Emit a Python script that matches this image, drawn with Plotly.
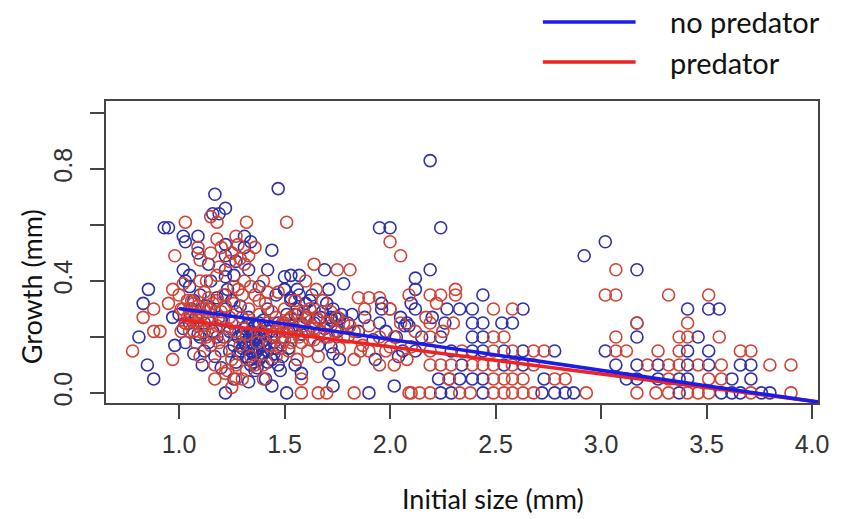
import plotly.graph_objects as go

# ---------------- data ----------------
# no predator (blue) points
nopred_x = [
    # right half, row by row
    2.24, 2.29, 2.44, 2.72, 2.78, 2.83, 2.87, 3.37, 3.57, 3.62, 3.66, 3.76, 3.80,
    2.23, 2.28, 2.33, 2.39, 2.44, 2.73, 3.12, 3.17, 3.27, 3.37, 3.41, 3.62, 3.71,
    2.34, 2.54, 2.63, 3.07, 3.17, 3.27, 3.41, 3.51, 3.66, 3.71,
    2.12, 2.29, 2.39, 2.44, 2.54, 2.63, 2.78, 3.02, 3.41, 3.51,
    2.24, 2.39, 2.44, 3.17, 3.46,
    2.08, 2.26, 2.39, 2.44, 2.53, 2.58, 3.17,
    2.12, 2.27, 2.33, 2.39, 2.63, 3.41, 3.51, 3.56,
    2.44,
    2.12, 2.19, 3.17, 2.92, 3.02, 2.24, 2.19, 2.12,
    2.02, 2.04, 2.09, 2.10, 2.05, 2.07,
    # left half, outer points
    0.81, 0.85, 0.88, 0.83, 0.855, 0.97, 0.98, 0.93, 0.95, 1.02, 1.03, 1.02, 1.05,
    1.09, 1.09, 1.17, 1.16, 1.19, 1.22, 1.31, 1.34, 1.31, 1.22, 1.22, 1.22, 1.22,
    1.42, 1.44, 1.47, 1.50, 1.53, 1.57, 1.69, 1.78, 1.71, 1.96, 1.96, 1.95, 2.00,
    1.95, 1.88, 1.72, 1.74, 1.76, 1.72, 1.73, 1.76, 1.93, 1.71, 1.73, 1.90, 1.51,
    1.44, 1.41, 1.22, 1.58,
    1.27, 1.33, 1.14, 1.38,
    1.50, 1.53, 1.56, 1.60, 1.63,
    # left half, dense cluster
    1.00, 1.02, 1.03, 1.05, 1.06, 1.07, 1.08, 1.09, 1.10, 1.11, 1.12, 1.13, 1.14,
    1.15, 1.16, 1.17, 1.18, 1.19, 1.20, 1.21, 1.22, 1.23, 1.24, 1.25, 1.26, 1.27,
    1.28, 1.29, 1.30, 1.31, 1.32, 1.33, 1.33, 1.34, 1.34, 1.35, 1.35, 1.36, 1.36,
    1.37, 1.37, 1.38, 1.38, 1.39, 1.39, 1.40, 1.40, 1.41, 1.42, 1.42, 1.43, 1.44,
    1.45, 1.46, 1.47, 1.48, 1.49, 1.50, 1.51, 1.52, 1.53, 1.54, 1.55, 1.56, 1.57,
    1.58, 1.60, 1.62, 1.64, 1.66, 1.68, 1.70, 1.72, 1.73, 1.75, 1.77, 1.80,
    1.30, 1.32, 1.35, 1.37, 1.39, 1.41, 1.36, 1.33, 1.29, 1.43, 1.45, 1.38,
    1.31, 1.33, 1.35, 1.36, 1.37, 1.38, 1.39, 1.40, 1.41, 1.42, 1.34, 1.36, 1.38,
    1.32, 1.30, 1.28, 1.26, 1.24, 1.44, 1.46, 1.47, 1.49, 1.52, 1.55, 1.58, 1.61,
    1.64, 1.67, 1.69, 1.10, 1.12, 1.05, 1.07, 1.03, 1.15, 1.18, 1.20, 1.22, 1.25,
    1.27, 2.15, 2.20, 2.03, 2.06, 1.98, 1.92, 1.85, 1.82, 1.26, 1.33,
]
nopred_y = [
    0.0, 0.0, 0.0, 0.0, 0.0, 0.0, 0.0, 0.0, 0.0, 0.0, 0.0, 0.0, 0.0,
    0.05, 0.05, 0.05, 0.05, 0.05, 0.05, 0.05, 0.05, 0.05, 0.05, 0.05, 0.05, 0.05,
    0.10, 0.10, 0.10, 0.10, 0.10, 0.10, 0.10, 0.10, 0.10, 0.10,
    0.15, 0.15, 0.15, 0.15, 0.15, 0.15, 0.15, 0.15, 0.15, 0.15,
    0.20, 0.20, 0.20, 0.20, 0.20,
    0.25, 0.25, 0.25, 0.25, 0.25, 0.25, 0.25,
    0.30, 0.30, 0.30, 0.30, 0.30, 0.30, 0.30, 0.30,
    0.35,
    0.37, 0.44, 0.44, 0.49, 0.54, 0.59, 0.83, 0.41,
    0.025, 0.13, 0.24, 0.32, 0.27, 0.24,
    0.20, 0.10, 0.05, 0.32, 0.37, 0.27, 0.17, 0.59, 0.59, 0.56, 0.54, 0.44, 0.42,
    0.56, 0.50, 0.71, 0.64, 0.64, 0.66, 0.56, 0.54, 0.52, 0.53, 0.49, 0.44, 0.415,
    0.44, 0.51, 0.73, 0.415, 0.42, 0.42, 0.44, 0.39, 0.37, 0.32, 0.30, 0.59, 0.59,
    0.25, 0.27, 0.27, 0.27, 0.265, 0.165, 0.14, 0.12, 0.12, 0.07, 0.025, 0.0, 0.0,
    0.025, 0.05, 0.0, 0.07,
    0.47, 0.44, 0.46, 0.38,
    0.37, 0.34, 0.37, 0.32, 0.35,
    0.28, 0.23, 0.18, 0.38, 0.30, 0.14, 0.27, 0.21, 0.35, 0.10, 0.25, 0.31, 0.18,
    0.40, 0.22, 0.13, 0.34, 0.27, 0.09, 0.20, 0.30, 0.37, 0.15, 0.25, 0.42, 0.11,
    0.20, 0.31, 0.16, 0.23, 0.13, 0.19, 0.27, 0.15, 0.22, 0.11, 0.18, 0.14, 0.24,
    0.20, 0.09, 0.16, 0.12, 0.22, 0.18, 0.14, 0.26, 0.19, 0.15, 0.30, 0.22, 0.12,
    0.18, 0.35, 0.25, 0.08, 0.20, 0.37, 0.28, 0.16, 0.33, 0.24, 0.10, 0.30, 0.35,
    0.21, 0.27, 0.33, 0.25, 0.17, 0.29, 0.32, 0.26, 0.30, 0.22, 0.28, 0.25,
    0.20, 0.17, 0.21, 0.16, 0.13, 0.21, 0.19, 0.12, 0.15, 0.17, 0.14, 0.24,
    0.18, 0.16, 0.14, 0.20, 0.15, 0.21, 0.13, 0.17, 0.23, 0.11, 0.10, 0.08, 0.25,
    0.24, 0.21, 0.14, 0.17, 0.22, 0.20, 0.16, 0.10, 0.13, 0.22, 0.28, 0.25, 0.22,
    0.30, 0.27, 0.23, 0.20, 0.15, 0.25, 0.33, 0.40, 0.30, 0.20, 0.26, 0.35, 0.33,
    0.29, 0.20, 0.27, 0.20, 0.15, 0.22, 0.19, 0.22, 0.28, 0.05, 0.04,
]

# predator (red) points
pred_x = [
    2.09, 2.14, 2.19, 2.33, 2.38, 2.49, 2.54, 2.58, 2.63, 2.68, 2.93, 3.17, 3.26,
    3.32, 3.41, 3.46, 3.51, 3.71, 3.90,
    2.28, 2.49, 2.54, 2.58, 2.63, 2.78, 2.83, 3.32, 3.51, 3.57,
    2.19, 2.24, 2.29, 2.39, 2.44, 2.49, 2.58, 2.68, 3.22, 3.32, 3.37, 3.46, 3.57,
    3.80, 3.90,
    2.19, 2.34, 2.49, 2.58, 2.68, 2.73, 3.07, 3.12, 3.27, 3.37, 3.66, 3.71,
    2.19, 2.49, 2.54, 3.07, 3.37, 3.41, 3.56,
    2.05, 2.19, 2.30, 3.17, 3.41,
    2.49, 2.58,
    2.09, 2.19, 2.24, 2.31, 3.02, 3.07, 3.32, 3.51,
    2.22, 2.31, 3.07, 2.05, 2.10, 2.10, 2.00, 2.00, 2.00,
    # left half, outer points
    0.78, 0.83, 0.88, 0.88, 0.91, 0.95, 0.97, 0.98, 0.97, 1.03, 1.02, 1.09, 1.10,
    1.15, 1.18, 1.32, 1.27, 1.31, 1.51, 1.64, 1.75, 1.81, 1.65, 1.85, 1.90, 1.95,
    2.00, 1.81, 1.78, 1.83, 1.86, 1.83, 1.66, 1.70, 1.58, 1.17, 1.27, 1.58, 1.22,
    1.25, 1.29, 1.36, 1.18, 1.40,
    1.55, 1.62, 1.68, 1.60,
    # left half, dense cluster
    1.00, 1.02, 1.04, 1.05, 1.06, 1.08, 1.08, 1.10, 1.10, 1.12, 1.12, 1.13, 1.14,
    1.15, 1.16, 1.17, 1.18, 1.19, 1.20, 1.20, 1.21, 1.22, 1.23, 1.24, 1.25, 1.25,
    1.26, 1.27, 1.28, 1.29, 1.30, 1.30, 1.31, 1.32, 1.33, 1.34, 1.35, 1.36, 1.37,
    1.38, 1.39, 1.40, 1.41, 1.42, 1.43, 1.44, 1.45, 1.46, 1.47, 1.48, 1.49, 1.50,
    1.51, 1.52, 1.53, 1.54, 1.55, 1.56, 1.57, 1.58, 1.59, 1.60, 1.61, 1.62, 1.63,
    1.64, 1.65, 1.66, 1.67, 1.68, 1.70, 1.71, 1.72, 1.74, 1.76, 1.78, 1.80, 1.83,
    1.87, 1.90, 1.95, 1.98, 2.02,
    1.03, 1.07, 1.11, 1.05, 1.09, 1.14, 1.01, 1.45, 1.50, 1.55, 1.48, 1.53,
    1.01, 1.03, 1.04, 1.06, 1.07, 1.09, 1.09, 1.11, 1.12, 1.13, 1.14, 1.15, 1.16,
    1.17, 1.18, 1.19, 1.21, 1.22, 1.23, 1.15, 1.20, 1.24, 1.28, 1.33, 1.46, 1.47,
    1.49, 1.50, 1.52, 1.54, 1.56, 1.57, 1.59, 1.61, 1.62, 1.64, 1.66, 1.69, 1.72,
    1.75, 1.26, 1.30, 1.34, 1.38, 1.42, 1.27, 1.32, 1.36, 1.40, 1.25, 2.12, 2.17,
    2.25, 2.02, 2.08, 1.95, 1.90, 1.88, 1.18, 1.10,
]
pred_y = [
    0.0, 0.0, 0.0, 0.0, 0.0, 0.0, 0.0, 0.0, 0.0, 0.0, 0.0, 0.0, 0.0,
    0.0, 0.0, 0.0, 0.0, 0.0, 0.0,
    0.05, 0.05, 0.05, 0.05, 0.05, 0.05, 0.05, 0.05, 0.05, 0.05,
    0.10, 0.10, 0.10, 0.10, 0.10, 0.10, 0.10, 0.10, 0.10, 0.10, 0.10, 0.10, 0.10,
    0.10, 0.10,
    0.15, 0.15, 0.15, 0.15, 0.15, 0.15, 0.15, 0.15, 0.15, 0.15, 0.15, 0.15,
    0.20, 0.20, 0.20, 0.20, 0.20, 0.20, 0.20,
    0.25, 0.25, 0.25, 0.25, 0.25,
    0.30, 0.30,
    0.35, 0.35, 0.35, 0.35, 0.35, 0.35, 0.35, 0.35,
    0.32, 0.37, 0.44, 0.49, 0.0, 0.165, 0.165, 0.30, 0.54,
    0.15, 0.27, 0.30, 0.22, 0.22, 0.32, 0.12, 0.49, 0.37, 0.61, 0.39, 0.52, 0.475,
    0.63, 0.61, 0.61, 0.56, 0.46, 0.61, 0.46, 0.44, 0.44, 0.37, 0.34, 0.34, 0.34,
    0.30, 0.24, 0.20, 0.12, 0.15, 0.0, 0.0, 0.0, 0.0, 0.05, 0.05, 0.05, 0.07,
    0.50, 0.48, 0.52, 0.55, 0.40,
    0.33, 0.30, 0.33, 0.40,
    0.35, 0.30, 0.27, 0.22, 0.33, 0.25, 0.18, 0.29, 0.13, 0.36, 0.22, 0.40, 0.27,
    0.17, 0.32, 0.10, 0.24, 0.45, 0.29, 0.15, 0.35, 0.20, 0.08, 0.27, 0.50, 0.12,
    0.32, 0.22, 0.37, 0.17, 0.27, 0.05, 0.40, 0.21, 0.30, 0.13, 0.25, 0.35, 0.18,
    0.28, 0.22, 0.10, 0.32, 0.25, 0.17, 0.29, 0.21, 0.13, 0.36, 0.24, 0.18, 0.30,
    0.22, 0.15, 0.27, 0.20, 0.33, 0.12, 0.25, 0.18, 0.29, 0.22, 0.15, 0.30, 0.24,
    0.19, 0.27, 0.13, 0.22, 0.33, 0.25, 0.20, 0.29, 0.22, 0.16, 0.25, 0.20, 0.22,
    0.17, 0.15, 0.20, 0.15, 0.20,
    0.25, 0.32, 0.28, 0.30, 0.24, 0.30, 0.22, 0.20, 0.25, 0.22, 0.16, 0.18,
    0.30, 0.25, 0.33, 0.28, 0.22, 0.31, 0.26, 0.24, 0.30, 0.20, 0.34, 0.25, 0.21,
    0.29, 0.33, 0.18, 0.26, 0.31, 0.23, 0.50, 0.52, 0.47, 0.53, 0.49, 0.27, 0.22,
    0.25, 0.19, 0.26, 0.23, 0.28, 0.20, 0.24, 0.27, 0.19, 0.23, 0.26, 0.20, 0.24,
    0.27, 0.38, 0.35, 0.38, 0.33, 0.36, 0.10, 0.08, 0.10, 0.05, 0.02, 0.22, 0.27,
    0.22, 0.10, 0.12, 0.10, 0.24, 0.30, 0.42, 0.40,
]

# fitted lines
fit_x = [1.0, 4.03]
nopred_fit = [0.302, -0.033]
pred_fit = [0.262, -0.032]

y_tickvals = [0.0, 0.2, 0.4, 0.6, 0.8, 1.0]
y_ticktext = ["0.0", "", "0.4", "", "0.8", ""]
x_tickvals = [1.0, 1.5, 2.0, 2.5, 3.0, 3.5, 4.0]
x_ticktext = ["1.0", "1.5", "2.0", "2.5", "3.0", "3.5", "4.0"]

BLUE_PT = "#2f2fa8"
RED_PT = "#cf4436"
BLUE_LN = "#1c1ce8"
RED_LN = "#ee2222"

fig = go.Figure()
fig.add_trace(go.Scatter(x=nopred_x, y=nopred_y, mode="markers", showlegend=False,
                         marker=dict(symbol="circle-open", size=12, color=BLUE_PT,
                                     line=dict(width=1.6, color=BLUE_PT))))
fig.add_trace(go.Scatter(x=pred_x, y=pred_y, mode="markers", showlegend=False,
                         marker=dict(symbol="circle-open", size=12, color=RED_PT,
                                     line=dict(width=1.6, color=RED_PT))))
fig.add_trace(go.Scatter(x=fit_x, y=pred_fit, mode="lines", showlegend=False,
                         line=dict(color=RED_LN, width=3.5)))
fig.add_trace(go.Scatter(x=fit_x, y=nopred_fit, mode="lines", showlegend=False,
                         line=dict(color=BLUE_LN, width=3.5)))

tick_font = dict(family="Liberation Sans Narrow, Arial Narrow, Liberation Sans", size=25, color="#333")
title_font = dict(family="Lato, Open Sans, sans-serif", size=27, color="#111")

fig.update_xaxes(range=[0.654, 4.028], tickvals=x_tickvals, ticktext=x_ticktext,
                 showgrid=False, zeroline=False, showline=True, mirror=True,
                 linecolor="#444", linewidth=1.5, ticks="outside", ticklen=14,
                 tickcolor="#444", tickwidth=1.5, tickfont=tick_font,
                 ticklabelstandoff=4)
fig.update_yaxes(range=[-0.036, 1.043], tickvals=y_tickvals, ticktext=y_ticktext,
                 showgrid=False, zeroline=False, showline=True, mirror=True,
                 linecolor="#444", linewidth=1.5, ticks="outside", ticklen=14,
                 tickcolor="#444", tickwidth=1.5, tickfont=tick_font,
                 tickangle=-90, ticklabelstandoff=8)

# legend (drawn manually, positioned in paper coordinates)
legend_items = [("no predator", BLUE_LN, 1.262), ("predator", RED_LN, 1.129)]
for label, col, ypos in legend_items:
    fig.add_shape(type="line", xref="paper", yref="paper", x0=0.6136, x1=0.7438,
                  y0=ypos, y1=ypos, line=dict(color=col, width=3.5))
    fig.add_annotation(text=label, xref="paper", yref="paper", x=0.789, y=ypos,
                       xanchor="left", yanchor="middle", showarrow=False,
                       font=dict(family="Lato, Open Sans, sans-serif", size=29, color="#111"))

fig.add_annotation(text="Growth (mm)", xref="paper", yref="paper", x=-0.105, y=0.384,
                   textangle=-90, showarrow=False, xanchor="center", yanchor="middle",
                   font=title_font)
fig.add_annotation(text="Initial size (mm)", xref="paper", yref="paper", x=0.543, y=-0.315,
                   showarrow=False, xanchor="center", yanchor="middle", font=title_font)

fig.update_layout(width=841, height=519, margin=dict(l=106, r=13, t=101, b=116),
                  paper_bgcolor="white", plot_bgcolor="white")

fig.write_html("out.html")
